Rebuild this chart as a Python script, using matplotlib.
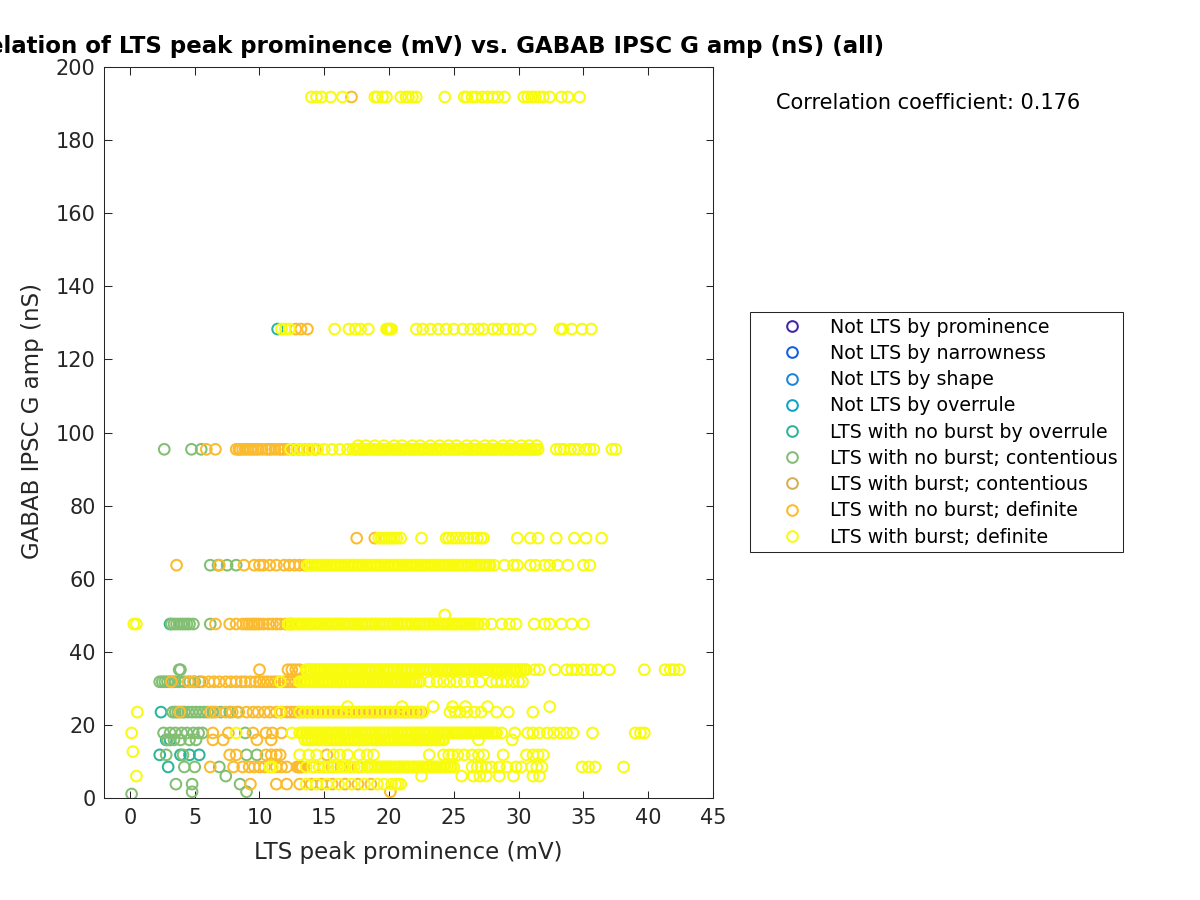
import matplotlib
matplotlib.use('Agg')
import matplotlib.pyplot as plt
from matplotlib.lines import Line2D

# ---------------- categories & colours ----------------
categories = ['Not LTS by prominence', 'Not LTS by narrowness', 'Not LTS by shape',
              'Not LTS by overrule', 'LTS with no burst by overrule',
              'LTS with no burst; contentious', 'LTS with burst; contentious',
              'LTS with no burst; definite', 'LTS with burst; definite']
colors = ['#3e26a8', '#0f5fe3', '#1a87da', '#06a7c6', '#2bb59c',
          '#83bf73', '#d6b04e', '#fbbb2e', '#f9fb0e']

title_text = 'Correlation of LTS peak prominence (mV) vs. GABAB IPSC G amp (nS) (all)'
xlabel_text = 'LTS peak prominence (mV)'
ylabel_text = 'GABAB IPSC G amp (nS)'
corr_text = 'Correlation coefficient: 0.176'
xticks = [0, 5, 10, 15, 20, 25, 30, 35, 40, 45]
yticks = [0, 20, 40, 60, 80, 100, 120, 140, 160, 180, 200]

# ---------------- data: GABAB levels (nS) ----------------
lv192, lv128, lv96, lv96b, lv71, lv64, lv50, lv48 = 191.8, 128.3, 95.4, 96.4, 71.1, 63.7, 50.1, 47.6
lv35, lv32, lv25, lv24, lv18, lv16 = 35.1, 31.8, 25.0, 23.5, 17.8, 15.9
lv13, lv12, lv8, lv6, lv4, lv2, lv1 = 12.7, 11.8, 8.5, 6.0, 3.8, 1.7, 1.1

# LTS with no burst by overrule (teal)
lo_128 = [11.4]
lo_48 = [3.1]
lo_24 = [2.4]
lo_16 = [2.8, 3.1]
lo_12 = [2.3, 3.9, 4.6, 5.35]
lo_8 = [2.95]

# LTS with no burst; contentious (green)
nc_96 = [2.65, 4.75, 5.5]
nc_64 = [6.2, 6.8, 7.5, 8.2]
nc_48 = [3.2, 3.4, 3.6, 3.8, 4.0, 4.2, 4.4, 4.6, 4.9, 6.2]
nc_35 = [3.8, 3.9]
nc_32 = [2.3, 2.5, 2.7, 2.9, 3.1, 3.3, 3.5, 3.8, 4.2, 4.6, 5.0, 5.4]
nc_24 = [3.3, 3.5, 3.7, 4.0, 4.2, 4.5, 4.8, 5.1, 5.4, 5.7, 6.0, 6.4, 7.0, 7.7, 8.3]
nc_18 = [2.6, 3.1, 3.5, 4.0, 4.4, 4.9, 5.3, 5.6, 8.9]
nc_16 = [2.9, 3.4, 3.9, 4.6, 5.1]
nc_12 = [2.8, 4.1, 9.0, 9.8]
nc_8 = [4.2, 5.0, 6.9]
nc_6 = [7.4]
nc_4 = [3.55, 4.8, 8.5]
nc_2 = [4.8, 9.0]
nc_1 = [0.13]

# LTS with no burst; definite (orange)
nd_192 = [17.1]
nd_128 = [12.8, 13.2, 13.7]
nd_96 = [5.9, 6.6, 8.2, 8.4, 8.5, 8.7, 8.9, 9.1, 9.3, 9.5, 9.7, 9.9, 10.2, 10.5, 10.7, 10.9,
         11.2, 11.5, 11.7, 11.9, 12.2, 12.6, 13.0, 13.4, 13.8, 14.3]
nd_71 = [17.5, 18.9]
nd_64 = [3.6, 6.9, 8.8, 9.6, 10.0, 10.3, 10.8, 11.3, 11.9, 12.3, 12.7, 13.1, 13.5]
nd_48 = [6.6, 7.7, 8.2, 8.7, 9.0, 9.2, 9.4, 9.6, 9.8, 10.0, 10.3, 10.7, 11.0, 11.3, 11.6,
         12.0, 12.4]
nd_35 = [10.0, 12.2, 12.5, 12.8, 13.1]
nd_32 = [3.2, 4.5, 4.9, 5.6, 6.1, 6.5, 6.9, 7.4, 7.8, 8.2, 8.6, 8.9, 9.3, 9.7, 10.0, 10.3,
         10.6, 10.9, 11.2, 11.5, 11.9, 12.2, 12.5, 12.8]
nd_24 = [3.86, 6.2, 6.6, 7.4, 7.9, 8.4, 9.0, 9.5, 9.9, 10.4, 10.8, 11.3, 11.7, 12.1, 12.4,
         12.7, 13.0, 13.3, 13.7, 14.1, 14.5, 14.9, 15.3, 15.7, 16.1, 16.5, 16.9, 17.3, 17.7,
         18.1, 18.5, 18.9, 19.3, 19.7, 20.1, 20.5, 20.9, 21.3, 21.7, 22.1, 22.5]
nd_18 = [6.4, 7.6, 9.5, 10.5, 11.0, 11.7]
nd_16 = [6.4, 7.2, 9.8, 10.9]
nd_12 = [7.7, 8.2, 10.5, 10.9, 11.3, 11.6, 15.2]
nd_8 = [6.2, 8.0, 8.7, 9.2, 9.6, 10.0, 10.4, 11.3, 11.7, 12.1, 12.9, 13.0, 13.1, 13.2, 13.3,
        14.2, 15.0, 15.6, 16.3, 17.0, 17.6]
nd_4 = [9.3, 11.3, 12.1, 13.1, 14.0, 14.8, 15.6, 16.6, 17.6, 18.6]
nd_2 = [20.1]

# LTS with burst; definite (yellow)
bd_192 = [14.0, 14.4, 14.8, 15.5, 16.4, 18.9, 19.1, 19.5, 19.8, 20.9, 21.3, 21.5, 21.8, 22.1,
          24.3, 25.8, 26.0, 26.4, 26.7, 27.2, 27.6, 28.0, 28.4, 28.9, 30.4, 30.7, 31.0, 31.3,
          31.6, 31.9, 32.4, 33.3, 33.8, 34.7]
bd_128 = [11.7, 12.0, 12.3, 15.8, 16.9, 17.4, 17.8, 18.4, 19.8, 19.9, 20.0, 20.1, 20.2, 22.1,
          22.6, 23.2, 23.8, 24.4, 25.0, 25.7, 26.3, 26.9, 27.3, 28.0, 28.4, 29.0, 29.6, 30.1,
          30.9, 33.2, 33.4, 34.1, 34.9, 35.6]
bd_96 = [12.4, 12.9, 13.3, 13.7, 14.1, 14.5, 15.0, 15.6, 16.2, 16.8, 17.2,
         17.4, 17.5, 17.7, 17.8, 18.0, 18.1, 18.3, 18.4, 18.6, 18.8, 18.9, 19.1, 19.2, 19.4,
         19.5, 19.7, 19.8, 20.0, 20.2, 20.3, 20.5, 20.6, 20.8, 20.9, 21.1, 21.2, 21.4, 21.6,
         21.7, 21.9, 22.0, 22.2, 22.3, 22.5, 22.6, 22.8, 23.0, 23.1, 23.3, 23.4, 23.6, 23.7,
         23.9, 24.0, 24.2, 24.4, 24.5, 24.7, 24.8, 25.0, 25.1, 25.3, 25.4, 25.6, 25.8, 25.9,
         26.1, 26.2, 26.4, 26.5, 26.7, 26.8, 27.0, 27.2, 27.3, 27.5, 27.6, 27.8, 27.9, 28.1,
         28.2, 28.4, 28.6, 28.7, 28.9, 29.0, 29.2, 29.3, 29.5, 29.6, 29.8, 30.0, 30.1, 30.3,
         30.4, 30.6, 30.7, 30.9, 31.0, 31.2, 31.3, 31.5,
         32.9, 33.2, 33.5, 34.0, 34.3, 34.6, 35.2, 35.5, 35.8, 37.2, 37.5]
bd_96b = [17.6, 18.2, 18.9, 19.6, 20.4, 21.0, 21.8, 22.4, 23.2, 23.9, 24.6, 25.2, 26.0, 26.6,
          27.4, 28.0, 28.8, 29.4, 30.2, 30.8, 31.4]
bd_71 = [19.2, 19.4, 19.6, 19.8, 20.0, 20.2, 20.4, 20.6, 20.9, 22.5, 24.4, 24.6, 24.9, 25.2,
         25.5, 25.8, 26.1, 26.5, 26.8, 27.1, 27.3, 29.9, 30.9, 31.5, 32.9, 34.3, 35.2, 36.4]
bd_64 = [13.7, 13.8, 14.0, 14.1, 14.3, 14.4, 14.6, 14.8, 14.9, 15.1, 15.2, 15.4, 15.5, 15.7,
         15.8, 16.0, 16.2, 16.3, 16.5, 16.6, 16.8, 16.9, 17.1, 17.2, 17.4, 17.6, 17.7, 17.9,
         18.0, 18.2, 18.3, 18.5, 18.6, 18.8, 19.0, 19.1, 19.3, 19.4, 19.6, 19.7, 19.9, 20.0,
         20.2, 20.4, 20.5, 20.7, 20.8, 21.0, 21.1, 21.3, 21.4, 21.6, 21.8, 21.9, 22.1, 22.2,
         22.4, 22.5, 22.7, 22.8, 23.0, 23.2, 23.3, 23.5, 23.6, 23.8, 23.9, 24.1, 24.2, 24.4,
         24.6, 24.7, 24.9, 25.0, 25.2, 25.3, 25.5, 25.6, 25.8, 26.0, 26.1, 26.3, 26.4, 26.6,
         26.7, 26.9, 27.0, 27.2, 27.4, 27.5, 27.7, 27.8,
         28.1, 28.9, 29.6, 29.9, 30.9, 31.3, 32.0, 32.4, 33.0, 33.8, 35.0, 35.5]
bd_50 = [24.3]
bd_48 = [0.3, 0.5,
         12.2, 12.3, 12.5, 12.6, 12.8, 13.0, 13.1, 13.3, 13.4, 13.6, 13.7, 13.9, 14.0, 14.2,
         14.4, 14.5, 14.7, 14.8, 15.0, 15.1, 15.3, 15.4, 15.6, 15.8, 15.9, 16.1, 16.2, 16.4,
         16.5, 16.7, 16.8, 17.0, 17.2, 17.3, 17.5, 17.6, 17.8, 17.9, 18.1, 18.2, 18.4, 18.6,
         18.7, 18.9, 19.0, 19.2, 19.3, 19.5, 19.6, 19.8, 20.0, 20.1, 20.3, 20.4, 20.6, 20.7,
         20.9, 21.0, 21.2, 21.4, 21.5, 21.7, 21.8, 22.0, 22.1, 22.3, 22.4, 22.6, 22.8, 22.9,
         23.1, 23.2, 23.4, 23.5, 23.7, 23.8, 24.0, 24.2, 24.3, 24.5, 24.6, 24.8, 24.9, 25.1,
         25.2, 25.4, 25.6, 25.7, 25.9, 26.0, 26.2, 26.3, 26.5, 26.6, 26.8, 26.9,
         27.3, 27.9, 28.7, 29.3, 29.8, 31.2, 32.0, 32.4, 33.3, 34.1, 35.0]
bd_35 = [13.6, 13.7, 13.9, 14.0, 14.2, 14.3, 14.5, 14.7, 14.8, 15.0, 15.1, 15.3, 15.4, 15.6,
         15.7, 15.9, 16.1, 16.2, 16.4, 16.5, 16.7, 16.8, 17.0, 17.1, 17.3, 17.5, 17.6, 17.8,
         17.9, 18.1, 18.2, 18.4, 18.5, 18.7, 18.9, 19.0, 19.2, 19.3, 19.5, 19.6, 19.8, 19.9,
         20.1, 20.3, 20.4, 20.6, 20.7, 20.9, 21.0, 21.2, 21.3, 21.5, 21.7, 21.8, 22.0, 22.1,
         22.3, 22.4, 22.6, 22.7, 22.9, 23.1, 23.2, 23.4, 23.5, 23.7, 23.8, 24.0, 24.1, 24.3,
         24.5, 24.6, 24.8, 24.9, 25.1, 25.2, 25.4, 25.5, 25.7, 25.9, 26.0, 26.2, 26.3, 26.5,
         26.6, 26.8, 26.9, 27.1, 27.3, 27.4, 27.6, 27.7, 27.9, 28.0, 28.2, 28.3, 28.5, 28.7,
         28.8, 29.0, 29.1, 29.3, 29.4, 29.6, 29.7, 29.9, 30.1, 30.2, 30.4, 30.5, 30.6,
         31.25, 31.6, 32.8, 33.7, 34.1, 34.5, 35.0, 35.6, 36.1, 37.0, 39.7, 41.3, 41.7, 42.0,
         42.4]
bd_32 = [11.6,
         13.1, 13.2, 13.4, 13.5, 13.7, 13.9, 14.0, 14.2, 14.3, 14.5, 14.6, 14.8, 14.9, 15.1,
         15.3, 15.4, 15.6, 15.7, 15.9, 16.0, 16.2, 16.3, 16.5, 16.7, 16.8, 17.0, 17.1, 17.3,
         17.4, 17.6, 17.7, 17.9, 18.1, 18.2, 18.4, 18.5, 18.7, 18.8, 19.0, 19.1, 19.3, 19.5,
         19.6, 19.8, 19.9, 20.1, 20.2, 20.4, 20.5, 20.7, 20.9, 21.0, 21.2, 21.3, 21.5, 21.6,
         21.8, 21.9, 22.1, 22.3, 22.4,
         23.1, 23.7, 24.2, 24.7, 25.2, 25.8, 26.4, 27.0, 27.9, 28.3, 28.7, 29.1, 29.6, 30.0,
         30.3]
bd_25 = [16.8, 21.0, 23.4, 24.9, 25.9, 27.6, 32.4]
bd_24 = [0.57, 11.6,
         13.1, 13.5, 13.9, 14.3, 14.7, 15.1, 15.5, 15.9, 16.3, 16.7, 17.1, 17.5, 17.9, 18.3,
         18.7, 19.1, 19.5, 19.9, 20.3, 20.7, 21.1, 21.5, 21.9, 22.3, 22.6,
         24.7, 25.1, 25.5, 26.0, 26.6, 27.1, 28.3, 29.2, 31.1]
bd_18 = [0.13, 8.2, 12.5,
         13.1, 13.3, 13.4, 13.6, 13.7, 13.9, 14.0, 14.2, 14.4, 14.5, 14.7, 14.8, 15.0, 15.1,
         15.3, 15.4, 15.6, 15.8, 15.9, 16.1, 16.2, 16.4, 16.5, 16.7, 16.8, 17.0, 17.2, 17.3,
         17.5, 17.6, 17.8, 17.9, 18.1, 18.2, 18.4, 18.6, 18.7, 18.9, 19.0, 19.2, 19.3, 19.5,
         19.6, 19.8, 20.0, 20.1, 20.3, 20.4, 20.6, 20.7, 20.9, 21.0, 21.2, 21.4, 21.5, 21.7,
         21.8, 22.0, 22.1, 22.3, 22.4, 22.6, 22.8, 22.9, 23.1, 23.2, 23.4, 23.5, 23.7, 23.8,
         24.0, 24.2, 24.3, 24.5, 24.6, 24.8, 24.9, 25.1, 25.2, 25.4, 25.6, 25.7, 25.9, 26.0,
         26.2, 26.3, 26.5, 26.6, 26.8, 27.0, 27.1, 27.3, 27.4, 27.6, 27.7, 27.9, 28.0, 28.2,
         28.3,
         28.7, 29.7, 30.7, 31.1, 31.6, 32.2, 32.7, 33.2, 33.7, 34.2, 35.7, 39.0, 39.4, 39.7]
bd_16 = [13.5, 13.7, 13.8, 14.0, 14.1, 14.3, 14.5, 14.6, 14.8, 14.9, 15.1, 15.2, 15.4, 15.5,
         15.7, 15.9, 16.0, 16.2, 16.3, 16.5, 16.6, 16.8, 16.9, 17.1, 17.3, 17.4, 17.6, 17.7,
         17.9, 18.0, 18.2, 18.3, 18.5, 18.7, 18.8, 19.0, 19.1, 19.3, 19.4, 19.6, 19.7, 19.9,
         20.1, 20.2, 20.4, 20.5, 20.7, 20.8, 21.0, 21.1, 21.3, 21.5, 21.6, 21.8, 21.9, 22.1,
         22.2, 22.4, 22.5, 22.7, 22.9, 23.0, 23.2, 23.3, 23.5, 23.6, 23.8, 23.9, 24.1, 24.2,
         26.9, 29.5]
bd_13 = [0.23]
bd_12 = [13.1, 13.8, 14.4, 15.7, 16.2, 16.8, 17.7, 18.3, 18.8,
         23.1, 24.2, 24.6, 24.9, 25.3, 25.8, 26.4, 26.9, 27.3, 28.8, 30.6, 31.1, 31.5, 31.9]
bd_8 = [10.8, 11.0, 13.6, 14.1, 14.6, 15.0, 15.3, 15.7, 16.0, 16.4, 16.6, 17.0, 17.3, 17.7,
        17.9,
        18.3, 18.4, 18.6, 18.7, 18.9, 19.1, 19.2, 19.4, 19.5, 19.7, 19.8, 20.0, 20.1, 20.3,
        20.5, 20.6, 20.8, 20.9, 21.1, 21.2, 21.4, 21.5, 21.7, 21.9, 22.0, 22.2, 22.3, 22.5,
        22.6, 22.8, 22.9, 23.1, 23.3, 23.4, 23.6, 23.7, 23.9, 24.0, 24.2, 24.3, 24.5, 24.7,
        24.8, 25.0,
        26.4, 26.8, 27.1, 27.5, 27.9, 28.5, 29.1, 29.8, 30.2, 31.0, 31.4, 31.8, 34.9, 35.4,
        35.9, 38.1]
bd_6 = [0.5, 22.5, 25.6, 26.5, 27.0, 27.5, 28.5, 29.6, 31.1, 31.6]
bd_4 = [13.6, 14.4, 15.2, 16.1, 17.1, 18.1, 19.1, 19.6, 20.2, 20.5, 20.7, 20.9]

groups = {
    4: [(lv128, lo_128), (lv48, lo_48), (lv24, lo_24), (lv16, lo_16), (lv12, lo_12), (lv8, lo_8)],
    5: [(lv96, nc_96), (lv64, nc_64), (lv48, nc_48), (lv35, nc_35), (lv32, nc_32),
        (lv24, nc_24), (lv18, nc_18), (lv16, nc_16), (lv12, nc_12), (lv8, nc_8),
        (lv6, nc_6), (lv4, nc_4), (lv2, nc_2), (lv1, nc_1)],
    7: [(lv192, nd_192), (lv128, nd_128), (lv96, nd_96), (lv71, nd_71), (lv64, nd_64),
        (lv48, nd_48), (lv35, nd_35), (lv32, nd_32), (lv24, nd_24), (lv18, nd_18),
        (lv16, nd_16), (lv12, nd_12), (lv8, nd_8), (lv4, nd_4), (lv2, nd_2)],
    8: [(lv192, bd_192), (lv128, bd_128), (lv96, bd_96), (lv96b, bd_96b), (lv71, bd_71),
        (lv64, bd_64), (lv50, bd_50), (lv48, bd_48), (lv35, bd_35), (lv32, bd_32),
        (lv25, bd_25), (lv24, bd_24), (lv18, bd_18), (lv16, bd_16), (lv13, bd_13),
        (lv12, bd_12), (lv8, bd_8), (lv6, bd_6), (lv4, bd_4)],
}

# ---------------- figure ----------------
W, H = 1200, 900
fig = plt.figure(figsize=(12, 9), dpi=100)
ax = fig.add_axes([104 / W, 102 / H, 609 / W, 731 / H])

msize = 59
mlw = 1.45
for i, cat in enumerate(categories):
    xs, ys = [], []
    for yv, xl in groups.get(i, []):
        xs.extend(xl)
        ys.extend([yv] * len(xl))
    ax.scatter(xs, ys, s=msize, facecolors='none', edgecolors=colors[i],
               linewidths=mlw, zorder=2 + i)

ax.set_xlim(-2, 45)
ax.set_ylim(0, 200)
ax.set_xticks(xticks)
ax.set_yticks(yticks)
axcol = '#262626'
ax.tick_params(direction='in', length=5.4, width=0.75, top=True, right=True,
               labelsize=15, colors=axcol)
ax.tick_params(axis='x', pad=7)
ax.tick_params(axis='y', pad=6)
for sp in ax.spines.values():
    sp.set_color(axcol)
    sp.set_linewidth(0.75)

fig.text(408.5 / W, 1 - 47 / H, title_text, ha='center', va='center',
         fontsize=16.5, fontweight='bold', color='black')
fig.text(408.5 / W, 1 - 852 / H, xlabel_text, ha='center', va='center',
         fontsize=16.5, color=axcol)
fig.text(33 / W, 1 - 421 / H, ylabel_text, ha='center', va='center', rotation=90,
         fontsize=16.5, color=axcol)
fig.text(776 / W, 1 - 103 / H, corr_text, ha='left', va='center', fontsize=15,
         color='black')

handles = [Line2D([], [], linestyle='none', marker='o', markersize=msize ** 0.5,
                  markerfacecolor='none', markeredgecolor=c, markeredgewidth=mlw)
           for c in colors]
leg = fig.legend(handles, categories, loc='upper left',
                 bbox_to_anchor=(750 / W, 1 - 312 / H), bbox_transform=fig.transFigure,
                 fontsize=13.7, frameon=True, fancybox=False, framealpha=1,
                 edgecolor=axcol, borderpad=0.3, labelspacing=0.38,
                 handlelength=3.8, handletextpad=0.1, borderaxespad=0)
leg.get_frame().set_linewidth(0.75)

fig.savefig('out.png', dpi=100)
